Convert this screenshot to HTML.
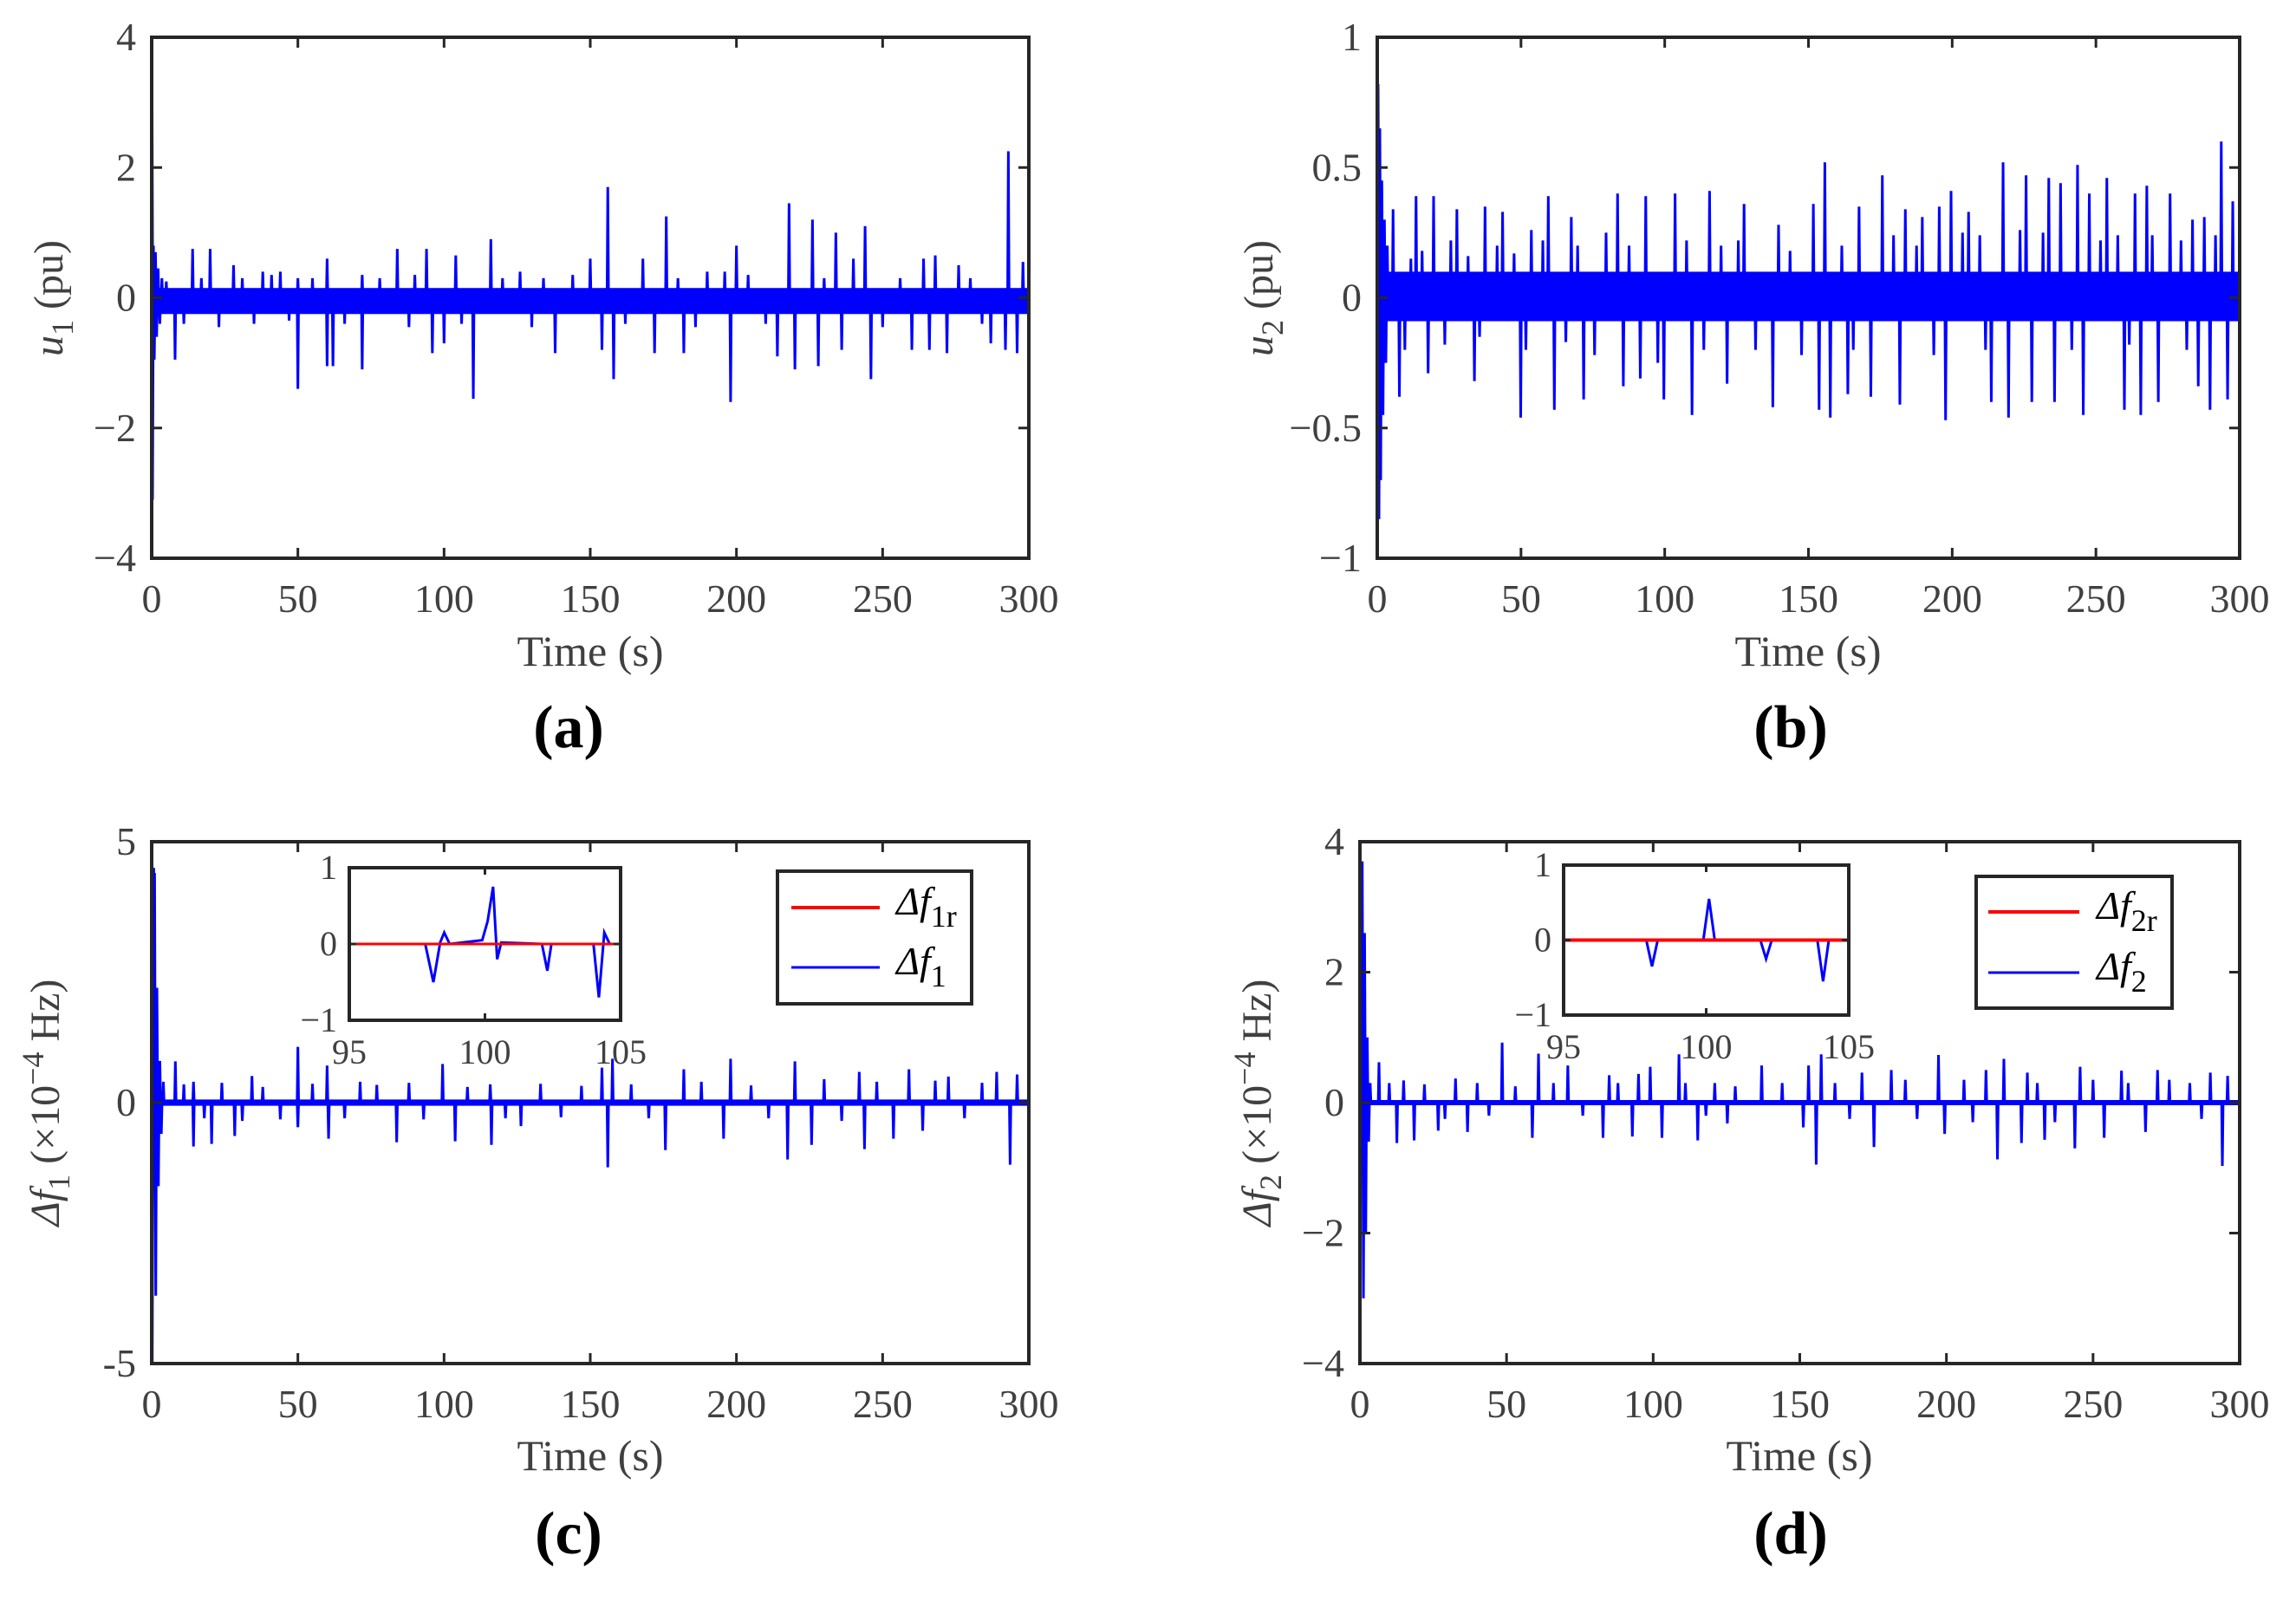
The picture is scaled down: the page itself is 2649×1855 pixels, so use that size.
<!DOCTYPE html>
<html><head><meta charset="utf-8"><style>
html,body{margin:0;padding:0;background:#fff;}
svg{display:block;}
text{font-family:"Liberation Serif",serif;fill:#404040;}
</style></head><body>
<svg id="fig" xmlns="http://www.w3.org/2000/svg" width="2649" height="1855" viewBox="0 0 2649 1855">
<rect width="2649" height="1855" fill="#fff"/>
<g id="root"></g>
</svg>
<script>
// ---- data: panel (a) u1 ----
const aTransT = [0.1,0.3,0.6,0.9,1.3,1.7,2.2,2.8,3.5];
const aTransV = [3.5,-3.1,0.8,-0.95,0.7,-0.6,0.45,-0.4,0.3];
const aUpT = [14,20,28,38,44,50,60,72,84,94,104,116,126,150,156,168,176,190,196,200,218,226,234,240,244,264,268,276,293,298];
const aUpV = [0.75,0.75,0.5,0.4,0.4,0.3,0.6,0.35,0.75,0.75,0.65,0.9,0.4,0.6,1.7,0.6,1.25,0.4,0.4,0.8,1.45,1.2,1.0,0.6,1.1,0.6,0.65,0.5,2.25,0.55];
const aDnT = [8,50,60,62,72,96,100,110,138,154,158,172,182,198,214,220,228,236,246,260,266,272,287,292,296];
const aDnV = [-0.95,-1.4,-1.05,-1.05,-1.1,-0.85,-0.7,-1.55,-0.85,-0.8,-1.25,-0.85,-0.85,-1.6,-0.9,-1.1,-1.05,-0.8,-1.25,-0.8,-0.8,-0.85,-0.7,-0.8,-0.85];
const aMidT = [5,11,17,23,31,35,41,47,55,66,78,88,90,106,120,130,134,144,162,180,186,204,210,230,250,256,280,284];
const aMidV = [0.25,-0.4,0.3,-0.45,0.3,-0.4,0.35,-0.35,0.3,-0.4,0.3,-0.45,0.35,-0.4,0.3,-0.45,0.3,0.35,-0.4,0.3,-0.45,0.35,-0.4,0.3,-0.45,0.3,0.3,-0.4];
const aBand = [-0.25, 0.15];

// ---- data: panel (b) u2 ----
const bTransT = [0.3,0.6,0.9,1.2,1.6,2.0,2.5,3.0];
const bTransV = [0.82,-0.85,0.65,-0.7,0.45,-0.45,0.3,-0.25];
const bUpT = [5.5,13.5,19.6,27.7,37.5,43.6,53.6,59.5,67.5,83.6,93.4,103.6,115.6,127.6,139.6,151.7,155.7,167.6,175.7,183.7,189.6,195.5,199.6,205.7,217.7,225.7,233.6,237.7,243.6,247.7,253.8,263.6,267.7,275.8,283.6,287.7,293.6,297.6];
const bUpV = [0.34,0.39,0.39,0.34,0.35,0.33,0.26,0.39,0.31,0.40,0.39,0.40,0.41,0.36,0.28,0.36,0.52,0.35,0.47,0.34,0.31,0.35,0.41,0.33,0.52,0.47,0.46,0.44,0.51,0.40,0.46,0.40,0.43,0.40,0.30,0.31,0.60,0.37];
const bDnT = [7.7,17.7,33.8,49.9,61.6,71.8,85.6,91.5,99.7,109.5,121.7,137.6,153.7,157.6,163.7,171.7,181.8,197.7,213.6,219.6,227.7,235.6,245.6,259.9,265.6,271.7,285.6,289.7,295.8];
const bDnV = [-0.38,-0.29,-0.32,-0.46,-0.43,-0.39,-0.34,-0.31,-0.39,-0.45,-0.33,-0.42,-0.43,-0.46,-0.37,-0.38,-0.41,-0.47,-0.40,-0.46,-0.40,-0.40,-0.45,-0.43,-0.45,-0.40,-0.34,-0.43,-0.39];
const bMidT = [3.5,9.6,11.7,15.6,23.5,25.6,31.6,35.6,41.7,47.6,51.7,57.6,65.6,69.7,75.6,79.6,87.6,97.6,107.6,113.6,119.6,125.6,131.6,143.6,147.6,161.6,165.6,179.6,187.6,193.6,203.6,209.6,211.6,223.6,231.6,241.6,251.6,257.6,261.6,269.6,279.6,281.6,291.6];
const bMidV = [0.2,-0.2,0.15,0.18,-0.18,0.22,0.16,-0.15,0.2,0.17,-0.2,0.22,-0.17,0.2,-0.22,0.25,0.2,-0.25,0.22,-0.2,0.2,0.22,-0.2,0.18,-0.22,0.2,-0.2,0.24,0.2,-0.22,0.25,0.24,-0.2,0.26,0.25,-0.2,0.22,0.24,-0.18,0.24,0.22,-0.2,0.24];
const bBand = [-0.09, 0.1];

// ---- data: panel (c) df1 ----
const cTransT = [0.2,0.7,1.0,1.4,1.8,2.3,2.8,3.3];
const cTransV = [-5.0,4.5,4.4,-3.7,2.2,-1.6,0.8,-0.6];
const cUpT = [8.1,14.3,34.3,50,60,71.3,99.5,115.8,154,157.6,182,198,220,242,259,272.5,289,296];
const cUpV = [0.79,0.4,0.51,1.07,0.71,0.4,0.74,0.35,0.67,0.84,0.64,0.84,0.79,0.59,0.64,0.5,0.59,0.54];
const cDnT = [14.3,20.5,28.4,50,60.5,83.8,103.8,116.2,126.3,156,175.7,195.6,217.5,225.7,243.8,253.7,263.7,293.6];
const cDnV = [-0.84,-0.79,-0.64,-0.47,-0.69,-0.76,-0.74,-0.81,-0.45,-1.24,-0.91,-0.69,-1.09,-0.81,-0.89,-0.69,-0.54,-1.19];
const cMidT = [4,11,18,24,31,38,44,55,66,77,88,93,108,121,133,140,147,164,170,188,205,211,230,236,248,268,278,284];
const cMidV = [0.4,0.35,-0.3,0.38,-0.35,0.3,-0.32,0.36,-0.3,0.34,0.38,-0.32,0.3,-0.3,0.36,-0.28,0.32,0.35,-0.3,0.4,0.33,-0.3,0.45,-0.35,0.4,0.42,-0.3,0.38];
const cBand = [-0.06, 0.06];
const cInsetT = [95,97.8,98.1,98.35,98.5,98.7,99.9,100.1,100.3,100.45,100.6,102.1,102.3,102.45,104.0,104.2,104.4,104.6,105];
const cInsetV = [0,0,-0.5,0.02,0.15,0,0.05,0.3,0.75,-0.2,0.02,0,-0.35,0,0,-0.7,0.15,0,0];

// ---- data: panel (d) df2 ----
const dTransT = [0.2,0.8,1.2,1.6,2.0,2.5,3.0,3.5];
const dTransV = [2.0,3.7,-3.0,2.6,-2.0,1.0,-0.6,0.3];
const dUpT = [6.5,14.9,32.6,48.5,60.9,70.9,85,95,99,108.8,121,137,153,157.3,171.2,181.2,197.3,213.5,219.6,227.6,245.6,259.7,272,290,295.9];
const dUpV = [0.62,0.34,0.37,0.92,0.75,0.57,0.42,0.44,0.55,0.74,0.3,0.57,0.57,0.74,0.46,0.50,0.73,0.50,0.67,0.46,0.55,0.49,0.50,0.46,0.41];
const dDnT = [12.6,18.5,26.7,36.7,58.8,82.9,92.9,103,115.2,125.3,151.2,155.6,175.3,199.4,217.4,225.6,233.5,243.8,253.8,267.9,294.1];
const dDnV = [-0.62,-0.58,-0.43,-0.45,-0.54,-0.54,-0.52,-0.54,-0.58,-0.32,-0.38,-0.95,-0.68,-0.48,-0.87,-0.62,-0.57,-0.70,-0.54,-0.45,-0.97];
const dMidT = [10,22,29,40,44,53,66,76,88,111,118,128,144,162,167,186,190,206,209,231,237,250,262,276,283,287];
const dMidV = [0.3,0.28,-0.25,0.3,-0.2,0.25,0.3,-0.2,0.3,0.3,-0.2,0.25,0.3,0.3,-0.25,0.35,-0.25,0.35,-0.3,0.3,-0.3,0.35,0.3,0.35,0.3,-0.25];
const dBand = [-0.04, 0.04];
const dInsetT = [95,97.9,98.1,98.3,99.9,100.1,100.3,101.9,102.1,102.3,103.9,104.1,104.3,105];
const dInsetV = [0,0,-0.35,0,0,0.55,0,0,-0.25,0,0,-0.55,0,0];

const xTicks = [0,50,100,150,200,250,300];
const aYTicks = [-4,-2,0,2,4];
const bYTicks = [-1,-0.5,0,0.5,1];
const cYTicks = [-5,0,5];
const dYTicks = [-4,-2,0,2,4];
const insetXTicks = [95,100,105];
const insetYTicks = [-1,0,1];

const NS = "http://www.w3.org/2000/svg";
const root = document.getElementById('root');
function mk(tag, attrs, parent){
  const e = document.createElementNS(NS, tag);
  for (const k in attrs) e.setAttribute(k, attrs[k]);
  (parent||root).appendChild(e);
  return e;
}
function fmt(v){ return v<0 ? '\u2212'+String(-v) : String(v); }

function buildSeries(trT,trV,upT,upV,dnT,dnV,midT,midV){
  const ev=[];
  for(let i=0;i<trT.length;i++) ev.push([trT[i],trV[i]]);
  for(let i=0;i<upT.length;i++) ev.push([upT[i],upV[i]]);
  for(let i=0;i<dnT.length;i++) ev.push([dnT[i],dnV[i]]);
  if(midT) for(let i=0;i<midT.length;i++) ev.push([midT[i],midV[i]]);
  ev.sort((a,b)=>a[0]-b[0]);
  return ev;
}

function panel(p){
  const g = mk('g',{});
  
  
  const sx = t => p.x0 + (t - p.xmin)/(p.xmax-p.xmin)*(p.x1-p.x0);
  const sy = v => p.y1 - (v - p.ymin)/(p.ymax-p.ymin)*(p.y1-p.y0);
  const clip = 'clip-'+p.name;
  const cp = mk('clipPath',{id:clip},g);
  mk('rect',{x:p.x0,y:p.y0,width:p.x1-p.x0,height:p.y1-p.y0},cp);
  const plot = mk('g',{'clip-path':'url(#'+clip+')'},g);
  if (p.band){
    const b = mk('rect',{x:sx(p.xmin+1.5),y:sy(p.band[1]),width:sx(p.xmax)-sx(p.xmin+1.5),height:sy(p.band[0])-sy(p.band[1]),fill:'#0000ff'},plot);
    
    
  }
  if (p.ev){
    let d = 'M'+sx(p.xmin)+','+sy(0);
    const w = p.spikeW;
    p.ev.forEach(e=>{
      d += ' L'+sx(e[0]-w)+','+sy(0)+' L'+sx(e[0])+','+sy(e[1])+' L'+sx(e[0]+w)+','+sy(0);
    });
    d += ' L'+sx(p.xmax)+','+sy(0);
    const l = mk('path',{d:d,fill:'none',stroke:'#0000ff','stroke-width':p.lw||3,'stroke-linejoin':'miter'},plot);
    
    
  }
  if (p.insT){
    let d='';
    for(let i=0;i<p.insT.length;i++) d += (i?' L':'M')+sx(p.insT[i])+','+sy(p.insV[i]);
    const l = mk('path',{d:d,fill:'none',stroke:'#0000ff','stroke-width':3},plot);
    
    
    const r = mk('line',{x1:p.x0,x2:p.x1,y1:sy(0),y2:sy(0),stroke:'#ff0000','stroke-width':p.redW||3},plot);
    
    
  }
  const box = mk('rect',{x:p.x0,y:p.y0,width:p.x1-p.x0,height:p.y1-p.y0,fill:'none',stroke:'#262626','stroke-width':p.bw||4},g);
  
  
  const tl = p.tickLen||12;
  p.xt.forEach(t=>{
    const x=sx(t);
    mk('line',{x1:x,x2:x,y1:p.y1,y2:p.y1-tl,stroke:'#262626','stroke-width':3},g);
    mk('line',{x1:x,x2:x,y1:p.y0,y2:p.y0+tl,stroke:'#262626','stroke-width':3},g);
    const tx = mk('text',{x:x,y:p.y1+p.xlOff,'text-anchor':'middle','font-size':p.fs},g);
    tx.textContent = String(t);
    
    
  });
  p.yt.forEach((v,i)=>{
    const y=sy(v);
    mk('line',{x1:p.x0,x2:p.x0+tl,y1:y,y2:y,stroke:'#262626','stroke-width':3},g);
    mk('line',{x1:p.x1,x2:p.x1-tl,y1:y,y2:y,stroke:'#262626','stroke-width':3},g);
    const tx = mk('text',{x:p.x0-p.ylOff,y:y+p.fs*0.33,'text-anchor':'end','font-size':p.fs},g);
    tx.textContent = p.ytl ? p.ytl[i] : fmt(v);
    
    
  });
  return {sx,sy};
}

panel({name:'panel-a',x0:175,x1:1187,y0:43,y1:644,xmin:0,xmax:300,ymin:-4,ymax:4,xt:xTicks,yt:aYTicks,fs:46,xlOff:62,ylOff:18,spikeW:0.25,
  band:aBand, ev:buildSeries(aTransT,aTransV,aUpT,aUpV,aDnT,aDnV,aMidT,aMidV)});
panel({name:'panel-b',x0:1589,x1:2584,y0:43,y1:644,xmin:0,xmax:300,ymin:-1,ymax:1,xt:xTicks,yt:bYTicks,fs:46,xlOff:62,ylOff:18,spikeW:0.25,
  band:bBand, ev:buildSeries(bTransT,bTransV,bUpT,bUpV,bDnT,bDnV,bMidT,bMidV)});
panel({name:'panel-c',x0:175,x1:1187,y0:971,y1:1573,xmin:0,xmax:300,ymin:-5,ymax:5,xt:xTicks,yt:cYTicks,ytl:['-5','0','5'],fs:46,xlOff:62,ylOff:18,spikeW:0.25,
  band:cBand, ev:buildSeries(cTransT,cTransV,cUpT,cUpV,cDnT,cDnV,cMidT,cMidV)});
panel({name:'panel-d',x0:1569,x1:2584,y0:971,y1:1573,xmin:0,xmax:300,ymin:-4,ymax:4,xt:xTicks,yt:dYTicks,fs:46,xlOff:62,ylOff:18,spikeW:0.25,
  band:dBand, ev:buildSeries(dTransT,dTransV,dUpT,dUpV,dDnT,dDnV,dMidT,dMidV)});

function whiteBg(x0,y0,x1,y1){ mk('rect',{x:x0,y:y0,width:x1-x0,height:y1-y0,fill:'#fff'}); }
whiteBg(403,1001,716,1177);
panel({name:'inset-c',x0:403,x1:716,y0:1001,y1:1177,xmin:95,xmax:105,ymin:-1,ymax:1,xt:insetXTicks,yt:insetYTicks,fs:40,xlOff:50,ylOff:14,tickLen:8,bw:4,
  insT:cInsetT,insV:cInsetV,redW:3});
whiteBg(1804,998,2133,1171);
panel({name:'inset-d',x0:1804,x1:2133,y0:998,y1:1171,xmin:95,xmax:105,ymin:-1,ymax:1,xt:insetXTicks,yt:insetYTicks,fs:40,xlOff:50,ylOff:14,tickLen:8,bw:4,
  insT:dInsetT,insV:dInsetV,redW:4});

function legend(name,x0,y0,x1,y1,ry,by,lx0,lx1,tx,sub1,sub2){
  const g = mk('g',{});
  
  
  mk('rect',{x:x0,y:y0,width:x1-x0,height:y1-y0,fill:'#fff',stroke:'#262626','stroke-width':4},g);
  mk('line',{x1:lx0,x2:lx1,y1:ry,y2:ry,stroke:'#ff0000','stroke-width':4},g);
  mk('line',{x1:lx0,x2:lx1,y1:by,y2:by,stroke:'#0000ff','stroke-width':3},g);
  [[ry,sub1],[by,sub2]].forEach(([y,s])=>{
    const t = mk('text',{x:tx,y:y+8,'font-size':46},g);
    
    
    t.innerHTML = '<tspan font-style="italic" fill="#000">\u0394f</tspan><tspan dy="14" font-size="36" fill="#000">'+s+'</tspan>';
  });
}
legend('legend-c',897,1005,1121,1158,1047,1116,913,1015,1034,'1r','1');
legend('legend-d',2280,1011,2506,1163,1052,1122,2294,2399,2419,'2r','2');

function xlabel(x,y){ const t=mk('text',{x:x,y:y,'text-anchor':'middle','font-size':50}); t.textContent='Time (s)';
    }
xlabel(681,768); xlabel(2086,768); xlabel(681,1696); xlabel(2076,1696);
function cap(x,y,s){ const t=mk('text',{x:x,y:y,'text-anchor':'middle','font-size':70,'font-weight':'bold'});
  t.style.fill='#000';
  t.textContent=s;   }
cap(656,862,'(a)'); cap(2066,862,'(b)'); cap(656,1792,'(c)'); cap(2066,1792,'(d)');
function ylabel(x,y,html){ const t=mk('text',{x:x,y:y,'text-anchor':'middle','font-size':48,transform:'rotate(-90 '+x+' '+y+')'});
  t.innerHTML=html;   }
ylabel(72,344,'<tspan font-style="italic">u</tspan><tspan dy="12" font-size="36">1</tspan><tspan dy="-12"> (pu)</tspan>');
ylabel(1468,344,'<tspan font-style="italic">u</tspan><tspan dy="12" font-size="36">2</tspan><tspan dy="-12"> (pu)</tspan>');
ylabel(68,1272,'<tspan font-style="italic">\u0394f</tspan><tspan dy="12" font-size="36">1</tspan><tspan dy="-12"> (\u00d710</tspan><tspan dy="-18" font-size="36">\u22124</tspan><tspan dy="18"> Hz)</tspan>');
ylabel(1466,1272,'<tspan font-style="italic">\u0394f</tspan><tspan dy="12" font-size="36">2</tspan><tspan dy="-12"> (\u00d710</tspan><tspan dy="-18" font-size="36">\u22124</tspan><tspan dy="18"> Hz)</tspan>');
</script>
</body></html>
